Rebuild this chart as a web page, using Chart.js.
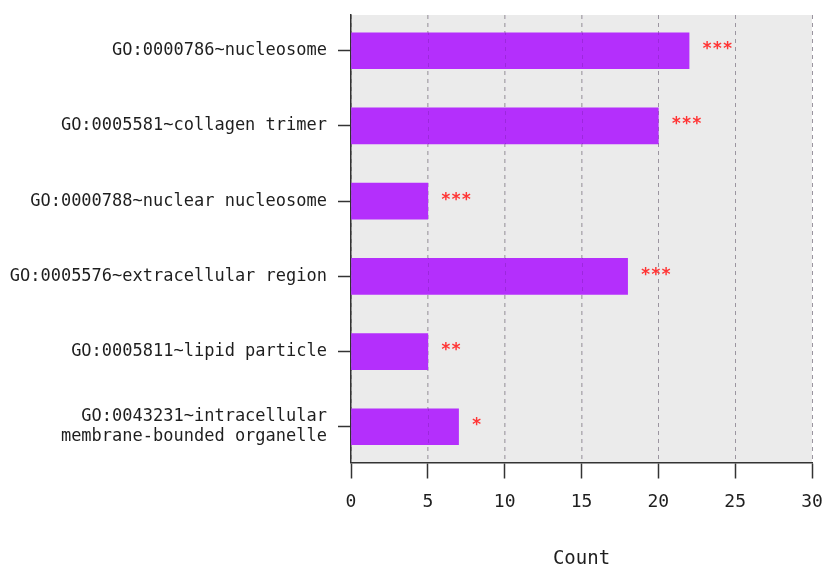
<!DOCTYPE html>
<html>
<head>
<meta charset="utf-8">
<script src="https://cdn.jsdelivr.net/npm/chart.js@4/dist/chart.umd.min.js"></script>
<style>
  html, body { margin: 0; padding: 0; background: #ffffff; }
  #wrap { width: 825px; height: 568px; position: relative; }
</style>
</head>
<body>
<div id="wrap"><canvas id="chart"></canvas></div>
<script>
// GO cellular-component terms, top to bottom
const categories = [
  'GO:0000786~nucleosome',
  'GO:0005581~collagen trimer',
  'GO:0000788~nuclear nucleosome',
  'GO:0005576~extracellular region',
  'GO:0005811~lipid particle',
  ['GO:0043231~intracellular', 'membrane-bounded organelle']
];
// gene counts per term
const counts = [22, 20, 5, 18, 5, 7];
// significance markers shown beside each bar
const significance = ['***', '***', '***', '***', '**', '*'];
// x axis tick values
const xTicks = [0, 5, 10, 15, 20, 25, 30];

const MONO = '"DejaVu Sans Mono", "Liberation Mono", monospace';
const INK = '#1e1e1e';

// grey panel behind the plotting area
const panelBackground = {
  id: 'panelBackground',
  beforeDraw(chart) {
    const { ctx, chartArea: a } = chart;
    ctx.save();
    ctx.fillStyle = '#ebebeb';
    ctx.fillRect(a.left, a.top, a.right - a.left, a.bottom - a.top);
    ctx.restore();
  }
};

// faint dashed grid showing through the bars, plus the star markers
const overlay = {
  id: 'overlay',
  afterDatasetsDraw(chart) {
    const { ctx, chartArea: a, scales } = chart;
    ctx.save();
    ctx.strokeStyle = 'rgba(40,0,70,0.16)';
    ctx.lineWidth = 1;
    ctx.setLineDash([4, 4]);
    xTicks.slice(1).forEach(v => {
      const x = Math.round(scales.x.getPixelForValue(v)) + 0.5;
      ctx.beginPath();
      ctx.moveTo(x, a.top);
      ctx.lineTo(x, a.bottom);
      ctx.stroke();
    });
    ctx.setLineDash([]);
    ctx.fillStyle = '#ff3535';
    ctx.font = 'bold 17px ' + MONO;
    ctx.textAlign = 'left';
    ctx.textBaseline = 'middle';
    const meta = chart.getDatasetMeta(0);
    meta.data.forEach((bar, i) => {
      ctx.fillText(significance[i], bar.x + 13, bar.y - 1);
    });
    ctx.restore();
  }
};

new Chart(document.getElementById('chart'), {
  type: 'bar',
  data: {
    datasets: [{
      data: counts.map((v, i) => ({ x: v, y: i })),
      backgroundColor: '#b42ffc',
      borderWidth: 0,
      barThickness: 36
    }]
  },
  options: {
    indexAxis: 'y',
    responsive: true,
    maintainAspectRatio: false,
    animation: false,
    events: [],
    layout: { padding: { top: 15, right: 13, bottom: 0, left: 0 } },
    plugins: { legend: { display: false }, tooltip: { enabled: false } },
    scales: {
      x: {
        type: 'linear',
        min: 0,
        max: 30,
        bounds: 'data',
        afterBuildTicks: s => { s.ticks = xTicks.map(v => ({ value: v })); },
        ticks: { font: { family: MONO, size: 18 }, color: INK, padding: 13, maxRotation: 0 },
        grid: {
          color: '#b2b2b2',
          lineWidth: 1,
          tickLength: 16,
          tickColor: '#333333',
          tickWidth: 1.5
        },
        border: { display: true, color: '#333333', width: 1.5, dash: [4, 4] },
        title: {
          display: true,
          text: 'Count',
          font: { family: MONO, size: 19 },
          color: INK,
          padding: { top: 0, bottom: -2 }
        },
        afterFit: s => { s.height = 105.5; s.paddingLeft = 0; s.paddingRight = 0; }
      },
      y: {
        type: 'linear',
        reverse: true,
        min: -0.475,
        max: 5.475,
        bounds: 'data',
        offset: false,
        afterBuildTicks: s => { s.ticks = categories.map((_, i) => ({ value: i })); },
        ticks: {
          callback: v => categories[v],
          font: { family: MONO, size: 17, lineHeight: 1.2 },
          color: INK,
          padding: 11,
          autoSkip: false
        },
        grid: {
          offset: false,
          drawOnChartArea: false,
          tickLength: 13,
          tickColor: '#333333',
          tickWidth: 1.5
        },
        border: { display: true, color: '#333333', width: 1.5 },
        afterFit: s => { s.width = 351; s.paddingTop = 0; s.paddingBottom = 0; }
      }
    }
  },
  plugins: [panelBackground, overlay]
});
</script>
</body>
</html>
